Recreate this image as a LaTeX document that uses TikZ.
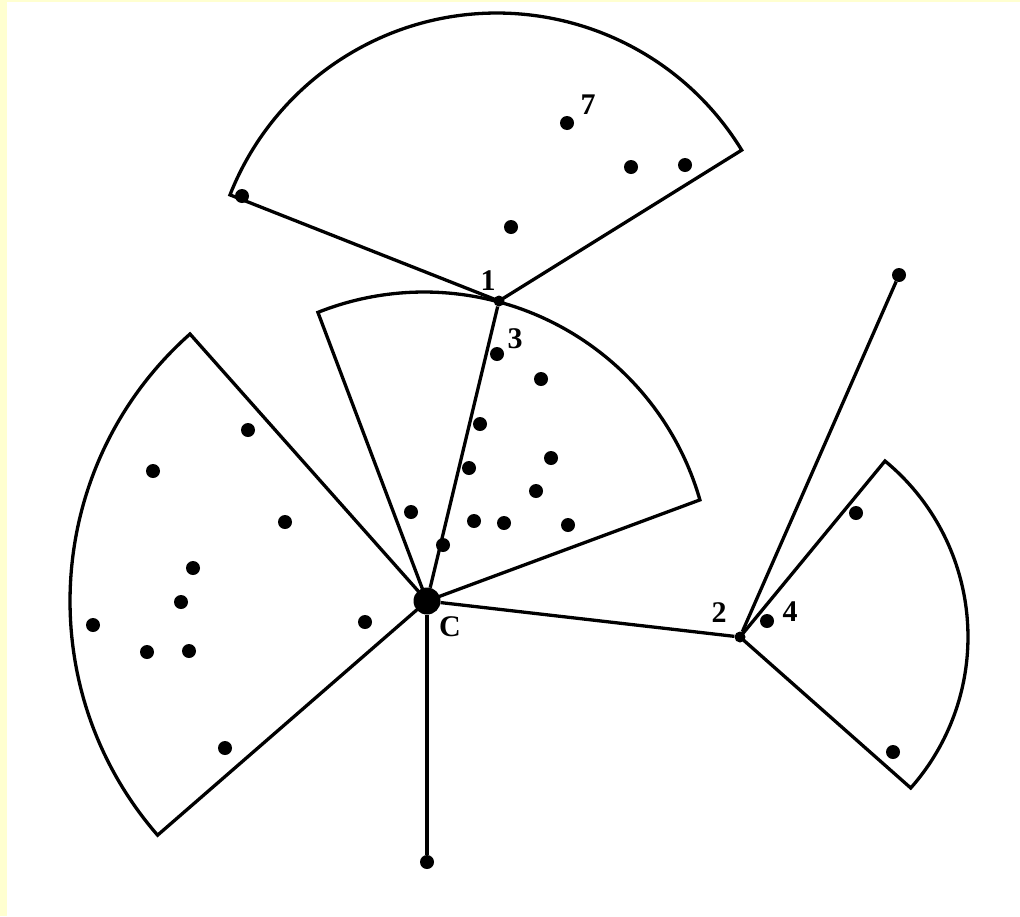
\documentclass[tikz,border=0pt]{standalone}
\usepackage{fontspec}
\setmainfont{Liberation Serif}
\definecolor{bgyellow}{RGB}{255,255,208}
\begin{document}
\begin{tikzpicture}[x=1pt,y=-1pt,
  edge/.style={line width=3.3pt, line join=miter},
  dot/.style={circle, fill=black, inner sep=0pt, minimum size=14pt},
  smalldot/.style={circle, fill=black, inner sep=0pt, minimum size=11pt},
  bigdot/.style={circle, fill=black, inner sep=0pt, minimum size=27pt},
  lbl/.style={font=\fontsize{30}{32}\selectfont\bfseries, inner sep=0pt}]
% background
\fill[bgyellow] (0,0) rectangle (1020,916);
\fill[white] (7,2) rectangle (1020,916);
\useasboundingbox (0,0) rectangle (1020,916);

% key nodes
\node[bigdot] (C) at (427,601) {};
\node[smalldot] (n1) at (499,301) {};
\node[smalldot] (n2) at (740,637) {};
\node[dot] (e1) at (899,275) {};
\node[dot] (e2) at (427,862) {};

% sectors
\draw[edge] (n1.center) -- (741.7,150.1) arc[start angle=-31.5, end angle=-158.5, radius=287] -- cycle;
\draw[edge] (C.center) -- (699.9,499.9) arc[start angle=-16, end angle=-111.7, radius=287] -- cycle;
\draw[edge] (C.center) -- (190,334) arc[start angle=-131.6, end angle=-221.0, radius=357] -- cycle;
\draw[edge] (n2.center) -- (885,461) arc[start angle=-50.5, end angle=41.5, radius=228] -- cycle;

% connectors
\draw[edge] (C) -- (n1);
\draw[edge] (C) -- (n2);
\draw[edge] (C) -- (e2);
\draw[edge] (n2) -- (e1);

% top sector dots
\node[dot] (p7) at (567,123) {};
\node[dot] (t1) at (631,167) {};
\node[dot] (t2) at (685,165) {};
\node[dot] (t3) at (511,227) {};
\node[dot] (t4) at (242,196) {};

% middle sector dots
\node[dot] (p3) at (497,354) {};
\node[dot] (m1) at (541,379) {};
\node[dot] (m2) at (480,424) {};
\node[dot] (m3) at (551,458) {};
\node[dot] (m4) at (469,468) {};
\node[dot] (m5) at (536,491) {};
\node[dot] (m6) at (411,512) {};
\node[dot] (m7) at (474,521) {};
\node[dot] (m8) at (504,523) {};
\node[dot] (m9) at (568,525) {};
\node[dot] (m10) at (443,545) {};

% left sector dots
\node[dot] (l1) at (248,430) {};
\node[dot] (l2) at (153,471) {};
\node[dot] (l3) at (285,522) {};
\node[dot] (l4) at (193,568) {};
\node[dot] (l5) at (181,602) {};
\node[dot] (l6) at (93,625) {};
\node[dot] (l7) at (147,652) {};
\node[dot] (l8) at (189,651) {};
\node[dot] (l9) at (365,622) {};
\node[dot] (l10) at (225,748) {};

% right sector dots
\node[dot] (r1) at (856,513) {};
\node[dot] (p4) at (767,621) {};
\node[dot] (r2) at (893,752) {};

% labels
\node[lbl] at (488,281) {1};
\node[lbl] at (515,339) {3};
\node[lbl] at (588,105) {7};
\node[lbl] at (719,613) {2};
\node[lbl] at (790,612) {4};
\node[lbl] at (450,627) {C};
\end{tikzpicture}
\end{document}
